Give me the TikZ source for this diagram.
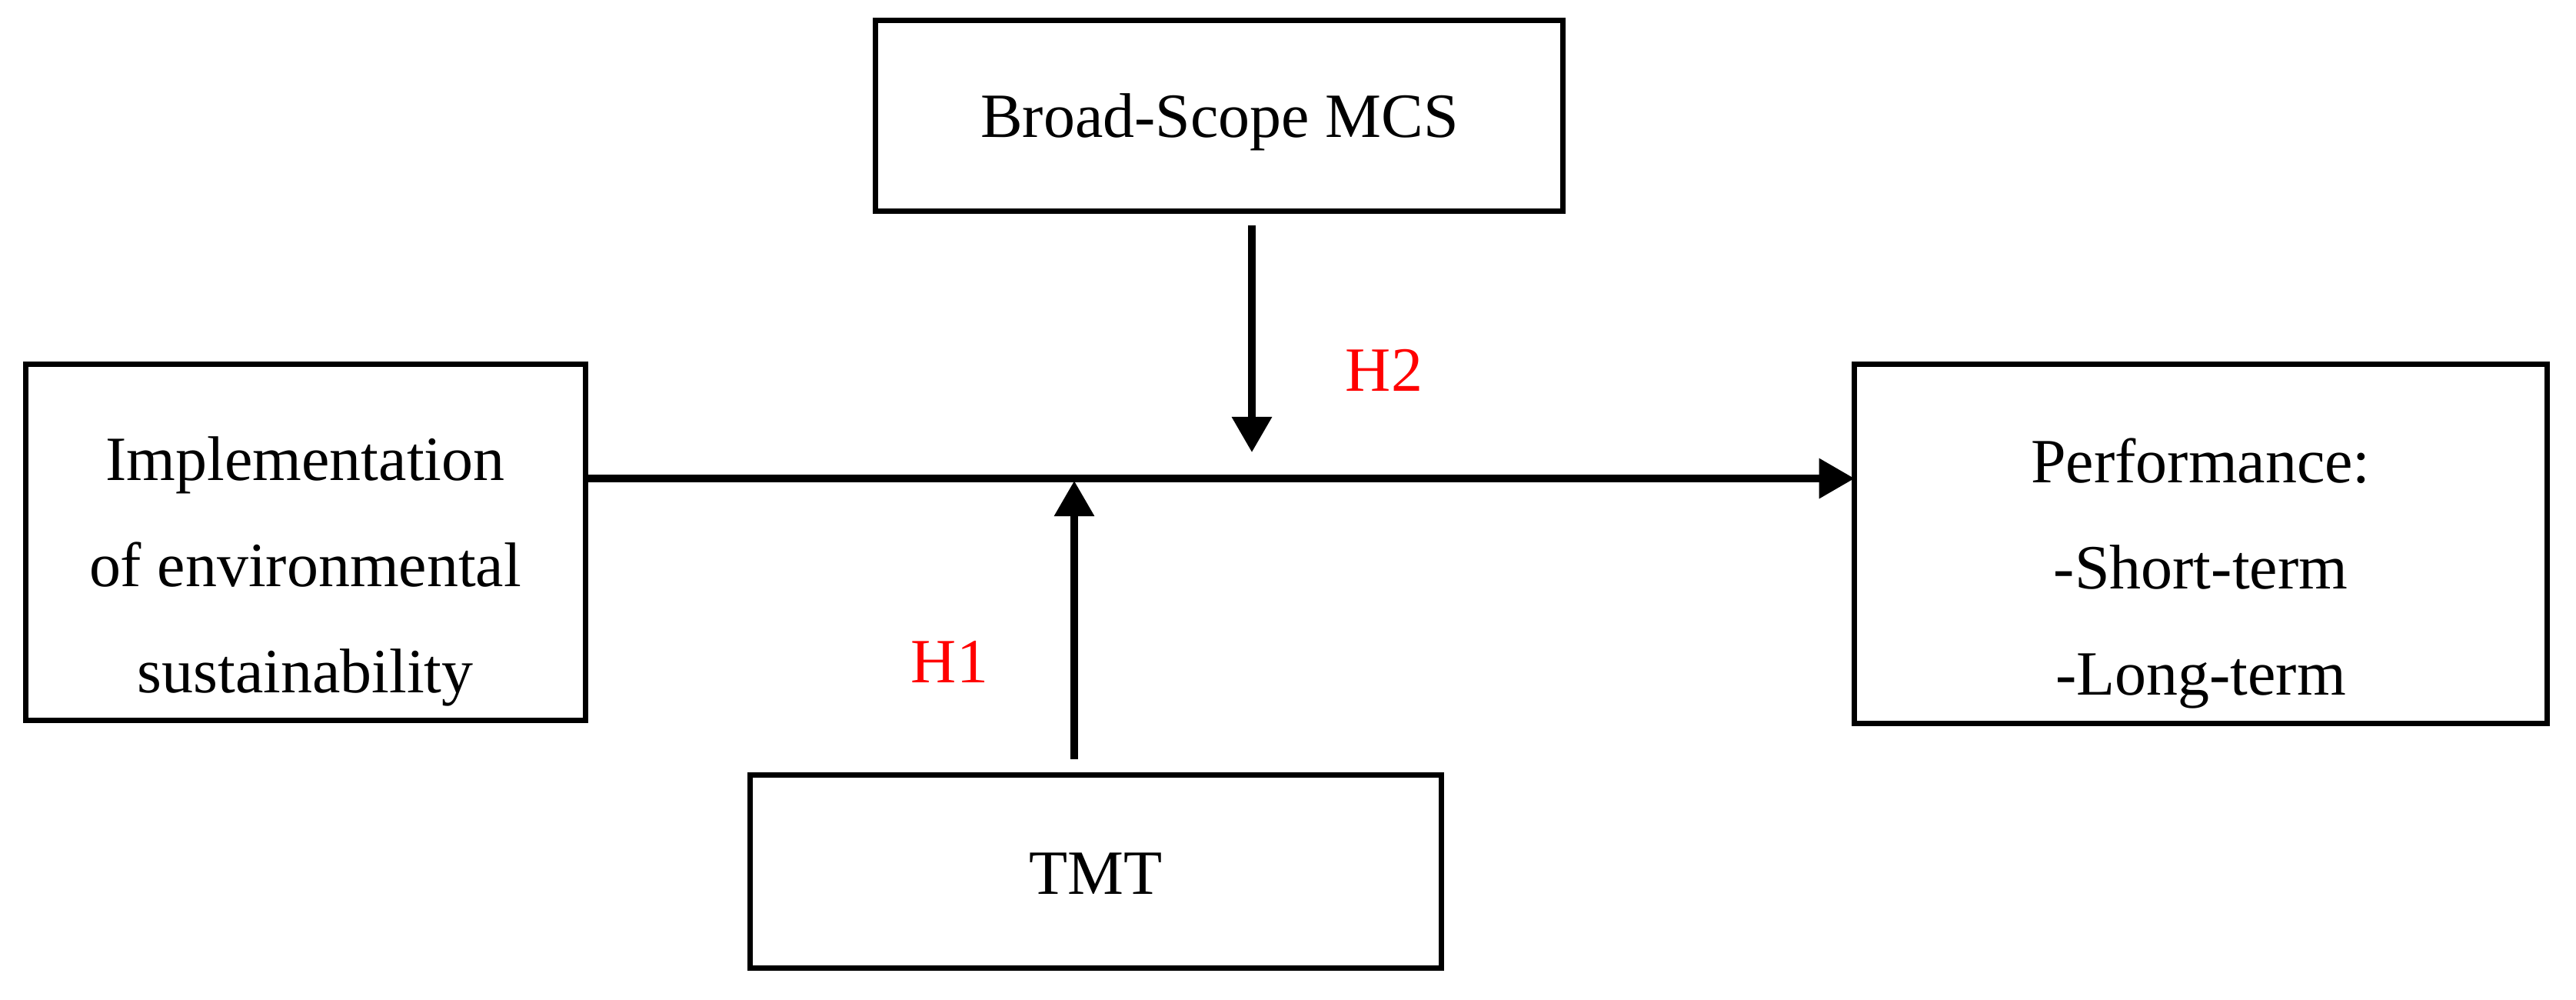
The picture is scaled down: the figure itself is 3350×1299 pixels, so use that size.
\documentclass[tikz,border=0pt]{standalone}
\usepackage{fontspec}
\setmainfont{Liberation Serif}
\usetikzlibrary{arrows.meta}
\begin{document}
\begin{tikzpicture}[x=0.01cm,y=-0.01cm,
  boxnode/.style={draw=black, line width=0.07cm, inner sep=0pt, outer sep=0pt, fill=none},
  txt/.style={inner sep=0pt, outer sep=0pt, font=\fontsize{23.3pt}{39.3pt}\selectfont, align=center},
  hyp/.style={txt, text=red},
  arr/.style={line width=0.095cm, -{Triangle[length=0.46cm,width=0.5cm]}}]
\useasboundingbox (0,0) rectangle (3350,1299);
% boxes
\node[boxnode, minimum width=8.93cm, minimum height=2.47cm] (mcs) at (1585.5,150.5) {};
\node[boxnode, minimum width=7.27cm, minimum height=4.62cm] (impl) at (397.5,705) {};
\node[boxnode, minimum width=9.00cm, minimum height=4.66cm] (perf) at (2862,707) {};
\node[boxnode, minimum width=8.98cm, minimum height=2.50cm] (tmt) at (1425,1133) {};
% texts
\node[txt, anchor=base] (mcsT) at (1586,178) {Broad-Scope MCS};
\node[txt] (implT) at (397,743) {Implementation\\of environmental\\sustainability};
\node[txt] (perfT) at (2862,745.5) {Performance:\\-Short-term\\-Long-term};
\node[txt, anchor=base] (tmtT) at (1425,1162) {TMT};
\node[hyp, anchor=base] (h2) at (1800,508) {H2};
\node[hyp, anchor=base] (h1) at (1235,887) {H1};
% connector coordinates
\coordinate (hy) at (0,622);
\coordinate (dTip) at (1628,588);
\coordinate (uTip) at (1397,625);
% main arrow
\draw[arr] (impl.east |- hy) -- (perf.west |- hy);
% moderator arrows
\draw[arr] ([yshift=-0.19cm]mcs.south -| dTip) -- (dTip);
\draw[arr] ([yshift=0.21cm]tmt.north -| uTip) -- (uTip);
\end{tikzpicture}
\end{document}
